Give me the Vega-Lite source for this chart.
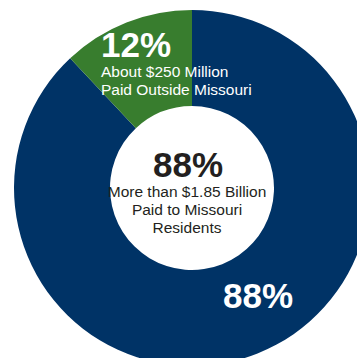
{
  "$schema": "https://vega.github.io/schema/vega-lite/v6.json",
  "autosize": "none",
  "width": 330,
  "height": 340,
  "padding": {"left": 27, "top": 18, "right": 0, "bottom": 0},
  "background": "white",
  "config": {"view": {"stroke": null}, "text": {"font": "Liberation Sans"}},
  "data": {"values": [
    {"category": "Paid to Missouri Residents", "value": 88, "order": 1, "pct": "88%", "desc": "More than $1.85 Billion\nPaid to Missouri\nResidents"},
    {"category": "Paid Outside Missouri", "value": 12, "order": 2, "pct": "12%", "desc": "About $250 Million\nPaid Outside Missouri"}
  ]},
  "layer": [
    {
      "mark": {"type": "arc", "outerRadius": 178, "innerRadius": 82},
      "encoding": {
        "theta": {"field": "value", "type": "quantitative", "stack": true},
        "order": {"field": "order", "type": "quantitative"},
        "color": {"field": "category", "type": "nominal", "legend": null,
          "scale": {"domain": ["Paid to Missouri Residents", "Paid Outside Missouri"], "range": ["#003366", "#387D2E"]}}
      }
    },
    {
      "mark": {"type": "text", "radius": 140, "align": "left", "baseline": "alphabetic", "dx": -39.5, "dy": -1, "fontSize": 35, "fontWeight": "bold", "fill": "white"},
      "encoding": {
        "theta": {"field": "value", "type": "quantitative", "stack": true},
        "order": {"field": "order", "type": "quantitative"},
        "text": {"condition": {"test": "datum.order === 2", "field": "pct"}, "value": ""}
      }
    },
    {
      "mark": {"type": "text", "radius": 140, "align": "left", "baseline": "alphabetic", "dx": -39.5, "dy": 19, "fontSize": 15.5, "lineHeight": 18, "lineBreak": "\n", "fill": "white"},
      "encoding": {
        "theta": {"field": "value", "type": "quantitative", "stack": true},
        "order": {"field": "order", "type": "quantitative"},
        "text": {"condition": {"test": "datum.order === 2", "field": "desc"}, "value": ""}
      }
    },
    {
      "mark": {"type": "text", "radius": 129, "align": "left", "baseline": "alphabetic", "dx": -16.5, "dy": 0, "fontSize": 35, "fontWeight": "bold", "fill": "white"},
      "encoding": {
        "theta": {"field": "value", "type": "quantitative", "stack": true},
        "order": {"field": "order", "type": "quantitative"},
        "text": {"condition": {"test": "datum.order === 1", "field": "pct"}, "value": ""}
      }
    },
    {
      "transform": [{"filter": "datum.order === 1"}],
      "mark": {"type": "text", "align": "center", "baseline": "alphabetic", "dx": -4, "dy": -11, "fontSize": 35, "fontWeight": "bold", "fill": "#231F20"},
      "encoding": {"text": {"field": "pct"}}
    },
    {
      "transform": [{"filter": "datum.order === 1"}],
      "mark": {"type": "text", "align": "center", "baseline": "alphabetic", "dx": -5, "dy": 9, "fontSize": 15.5, "lineHeight": 18, "lineBreak": "\n", "fill": "#231F20"},
      "encoding": {"text": {"field": "desc"}}
    }
  ]
}
